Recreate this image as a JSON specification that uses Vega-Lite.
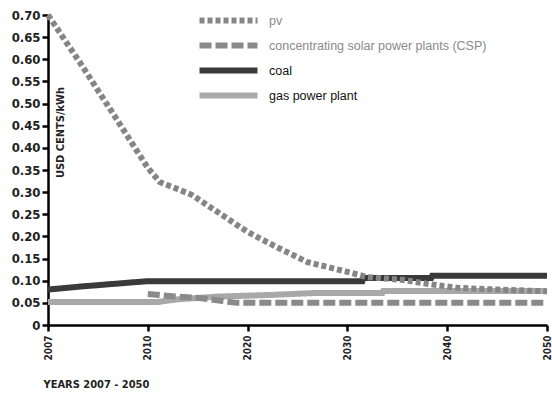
{
  "$schema": "https://vega.github.io/schema/vega-lite/v6.json",
  "width": 499,
  "height": 310,
  "autosize": "none",
  "padding": {"left": 48, "top": 15, "right": 5, "bottom": 69},
  "background": "white",
  "config": {"view": {"stroke": null}},
  "data": {"values": [
    {"series": "gas power plant", "year": 2007, "value": 0.052},
    {"series": "gas power plant", "year": 2011, "value": 0.052},
    {"series": "gas power plant", "year": 2013, "value": 0.058},
    {"series": "gas power plant", "year": 2016.9, "value": 0.064},
    {"series": "gas power plant", "year": 2022.5, "value": 0.068},
    {"series": "gas power plant", "year": 2026.5, "value": 0.072},
    {"series": "gas power plant", "year": 2033.5, "value": 0.072},
    {"series": "gas power plant", "year": 2033.6, "value": 0.077},
    {"series": "gas power plant", "year": 2050, "value": 0.077},
    {"series": "coal", "year": 2007, "value": 0.08},
    {"series": "coal", "year": 2008, "value": 0.087},
    {"series": "coal", "year": 2009, "value": 0.093},
    {"series": "coal", "year": 2010, "value": 0.099},
    {"series": "coal", "year": 2031.5, "value": 0.099},
    {"series": "coal", "year": 2031.6, "value": 0.106},
    {"series": "coal", "year": 2038.4, "value": 0.106},
    {"series": "coal", "year": 2038.5, "value": 0.111},
    {"series": "coal", "year": 2050, "value": 0.111},
    {"series": "concentrating solar power plants (CSP)", "year": 2010, "value": 0.07},
    {"series": "concentrating solar power plants (CSP)", "year": 2012.5, "value": 0.065},
    {"series": "concentrating solar power plants (CSP)", "year": 2015.2, "value": 0.061},
    {"series": "concentrating solar power plants (CSP)", "year": 2017.5, "value": 0.054},
    {"series": "concentrating solar power plants (CSP)", "year": 2018.9, "value": 0.05},
    {"series": "concentrating solar power plants (CSP)", "year": 2050, "value": 0.05},
    {"series": "pv", "year": 2007, "value": 0.7},
    {"series": "pv", "year": 2008, "value": 0.588},
    {"series": "pv", "year": 2009, "value": 0.472},
    {"series": "pv", "year": 2010, "value": 0.355},
    {"series": "pv", "year": 2011.2, "value": 0.323},
    {"series": "pv", "year": 2014.4, "value": 0.294},
    {"series": "pv", "year": 2016, "value": 0.27},
    {"series": "pv", "year": 2020, "value": 0.21},
    {"series": "pv", "year": 2023, "value": 0.175},
    {"series": "pv", "year": 2026, "value": 0.142},
    {"series": "pv", "year": 2030, "value": 0.12},
    {"series": "pv", "year": 2032, "value": 0.108},
    {"series": "pv", "year": 2035.5, "value": 0.102},
    {"series": "pv", "year": 2038, "value": 0.093},
    {"series": "pv", "year": 2041, "value": 0.084},
    {"series": "pv", "year": 2045, "value": 0.08},
    {"series": "pv", "year": 2050, "value": 0.076}
  ]},
  "mark": {"type": "line", "strokeWidth": 6, "strokeCap": "butt", "interpolate": "linear"},
  "encoding": {
    "x": {
      "field": "year", "type": "quantitative",
      "scale": {"domain": [2007, 2010, 2020, 2030, 2040, 2050], "range": [0, 99.8, 199.6, 299.4, 399.2, 499], "nice": false, "zero": false},
      "axis": {
        "values": [2007, 2010, 2020, 2030, 2040, 2050],
        "format": "d",
        "labelAngle": -90,
        "labelAlign": "right",
        "labelBaseline": "middle",
        "labelFont": "DejaVu Sans Condensed",
        "labelFontWeight": "bold",
        "labelFontSize": 10,
        "labelColor": "#222",
        "labelPadding": 4,
        "domainColor": "#000",
        "domainWidth": 2.5,
        "tickColor": "#000",
        "tickWidth": 2.5,
        "tickSize": 6,
        "grid": false,
        "title": "YEARS 2007 - 2050",
        "titleFont": "DejaVu Sans Condensed",
        "titleFontWeight": "bold",
        "titleFontSize": 11,
        "titleColor": "#222",
        "titleAnchor": "start",
        "titleAlign": "left",
        "titleBaseline": "middle",
        "titleX": -5,
        "titleY": 59
      }
    },
    "y": {
      "field": "value", "type": "quantitative",
      "scale": {"domain": [0, 0.7], "nice": false},
      "axis": {
        "values": [0, 0.05, 0.1, 0.15, 0.2, 0.25, 0.3, 0.35, 0.4, 0.45, 0.5, 0.55, 0.6, 0.65, 0.7],
        "labelExpr": "datum.value == 0 ? '0' : format(datum.value, '.2f')",
        "labelFont": "DejaVu Sans Condensed",
        "labelFontWeight": "bold",
        "labelFontSize": 13,
        "labelColor": "#222",
        "labelPadding": 2,
        "domainColor": "#000",
        "domainWidth": 2.5,
        "tickColor": "#000",
        "tickWidth": 2.5,
        "tickSize": 6,
        "grid": false,
        "title": "USD CENTS/kWh",
        "titleFont": "DejaVu Sans Condensed",
        "titleFontWeight": "bold",
        "titleFontSize": 11,
        "titleColor": "#222",
        "titleAngle": -90,
        "titleAlign": "center",
        "titleBaseline": "middle",
        "titleX": 12,
        "titleY": 117
      }
    },
    "color": {
      "field": "series", "type": "nominal",
      "scale": {
        "domain": ["pv", "concentrating solar power plants (CSP)", "coal", "gas power plant"],
        "range": ["#858585", "#8a8a8a", "#3a3a3a", "#a8a8a8"]
      },
      "legend": {
        "orient": "none",
        "legendX": 170,
        "legendY": -5,
        "title": null,
        "symbolType": "M-4,0H4",
        "symbolSize": 210,
        "symbolStrokeWidth": 6,
        "labelFont": "Liberation Sans",
        "labelFontSize": 12.5,
        "labelOffset": 30,
        "rowPadding": 0,
        "labelLimit": 400,
        "encode": {
          "labels": {"update": {"fill": {"signal": "datum.value == 'coal' || datum.value == 'gas power plant' ? '#111' : '#8a8a8a'"}}}
        }
      }
    },
    "strokeDash": {
      "field": "series", "type": "nominal",
      "scale": {
        "domain": ["pv", "concentrating solar power plants (CSP)", "coal", "gas power plant"],
        "range": [[5, 3], [12, 4], [1, 0], [1, 0]]
      },
      "legend": null
    }
  }
}
